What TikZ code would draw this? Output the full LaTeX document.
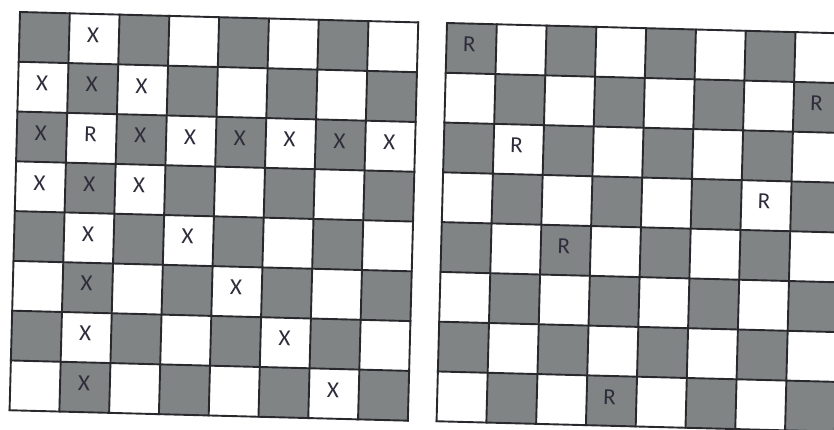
\documentclass[tikz,border=0pt]{standalone}
\usepackage{fontspec}
\setmainfont{Carlito}
\definecolor{sq}{RGB}{128,132,132}
\definecolor{ln}{RGB}{40,40,45}
\definecolor{mk}{RGB}{45,45,60}
\begin{document}
\begin{tikzpicture}[x=1pt,y=1pt,
  lbl/.style={font=\fontsize{23}{23}\selectfont, text=mk, inner sep=0pt, transform shape},
  gridline/.style={draw=ln, line width=1.9pt, line cap=rect}]
\useasboundingbox (0,0) rectangle (834,430);
\fill[white] (0,0) rectangle (834,430);
\clip (0,0) rectangle (834,430);
\def\c{49.8}
% left board
\begin{scope}[shift={(20,418)}, rotate=-1.5]
  \foreach \i in {0,...,7}{
    \foreach \j in {0,...,7}{
      \pgfmathtruncatemacro{\parity}{mod(\i+\j,2)}
      \ifnum\parity=0 \fill[sq] (\j*\c,-\i*\c) rectangle ++(\c,-\c); \fi
    }}
  \foreach \k in {0,...,8}{
    \draw[gridline] (\k*\c,0) -- (\k*\c,-8*\c);
    \draw[gridline] (0,-\k*\c) -- (8*\c,-\k*\c);
  }
  \foreach \i/\j in {0/1,1/0,1/1,1/2,2/0,2/2,2/3,2/4,2/5,2/6,2/7,3/0,3/1,3/2,4/1,4/3,5/1,5/4,6/1,6/5,7/1,7/6}
    \node[lbl] (LX\i\j) at ({(\j+0.5)*\c-1},{-(\i+0.5)*\c+4}) {X};
  \node[lbl] (LR21) at ({1.5*\c-1},{-2.5*\c+4}) {R};
\end{scope}
% right board
\begin{scope}[shift={(447,407)}, rotate=-1.5]
  \foreach \i in {0,...,7}{
    \foreach \j in {0,...,7}{
      \pgfmathtruncatemacro{\parity}{mod(\i+\j,2)}
      \ifnum\parity=0 \fill[sq] (\j*\c,-\i*\c) rectangle ++(\c,-\c); \fi
    }}
  \foreach \k in {0,...,8}{
    \draw[gridline] (\k*\c,0) -- (\k*\c,-8*\c);
    \draw[gridline] (0,-\k*\c) -- (8*\c,-\k*\c);
  }
  \foreach \i/\j in {0/0,1/7,2/1,3/6,4/2,7/3}
    \node[lbl] (RR\i\j) at ({(\j+0.5)*\c-2},{-(\i+0.5)*\c+4}) {R};
\end{scope}
\end{tikzpicture}
\end{document}
